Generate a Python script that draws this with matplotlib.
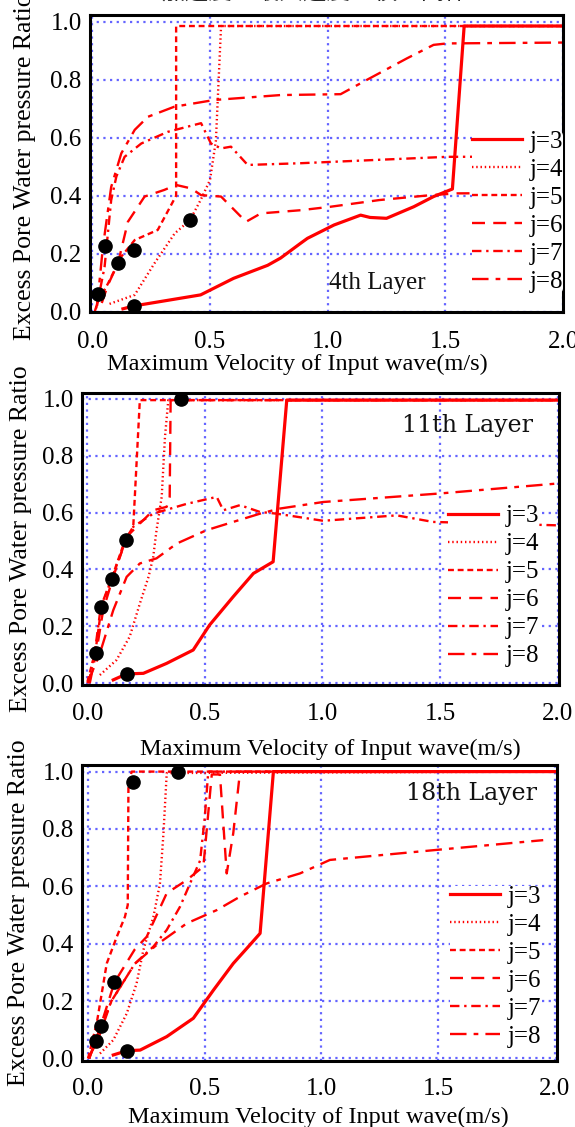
import matplotlib
matplotlib.use("Agg")
import matplotlib.pyplot as plt

# ---------------- data ----------------
title_text = "加速度と最大速度の積の関係"
xlabel_text = "Maximum Velocity of Input wave(m/s)"
ylabel_text = "Excess Pore Water pressure Ratio"
series_labels = ["j=3", "j=4", "j=5", "j=6", "j=7", "j=8"]
layer_names = ["4th Layer", "11th Layer", "18th Layer"]
x_ticks = [0.0, 0.5, 1.0, 1.5, 2.0]
y_ticks = [0.0, 0.2, 0.4, 0.6, 0.8, 1.0]

# Panel 1 (4th layer)
p1_j3_v = [0.13, 0.177, 0.46, 0.60, 0.745, 0.80, 0.885, 0.914, 1.027, 1.14, 1.18, 1.25, 1.366, 1.45, 1.53, 1.58, 2.0]
p1_j3_r = [0.01, 0.02, 0.058, 0.115, 0.16, 0.185, 0.236, 0.253, 0.299, 0.333, 0.325, 0.322, 0.362, 0.397, 0.423, 0.985, 0.985]
p1_j4_v = [0.073, 0.18, 0.264, 0.35, 0.415, 0.46, 0.50, 0.525, 0.547, 2.0]
p1_j4_r = [0.027, 0.058, 0.167, 0.27, 0.316, 0.385, 0.454, 0.59, 0.985, 0.985]
p1_j5_v = [0.01, 0.024, 0.067, 0.123, 0.18, 0.278, 0.356, 0.356, 2.0]
p1_j5_r = [0.0, 0.035, 0.098, 0.19, 0.247, 0.282, 0.40, 0.985, 0.985]
p1_j6_v = [0.04, 0.066, 0.109, 0.151, 0.222, 0.306, 0.356, 0.42, 0.462, 0.547, 0.653, 0.716, 0.886, 1.013, 1.22, 1.44, 1.55, 2.0]
p1_j6_r = [0.03, 0.092, 0.167, 0.31, 0.397, 0.42, 0.437, 0.425, 0.402, 0.397, 0.31, 0.339, 0.35, 0.362, 0.385, 0.402, 0.408, 0.41]
p1_j7_v = [0.015, 0.024, 0.052, 0.08, 0.102, 0.137, 0.208, 0.32, 0.433, 0.462, 0.504, 0.547, 0.589, 0.66, 0.886, 1.507, 2.0]
p1_j7_r = [0.01, 0.04, 0.155, 0.385, 0.466, 0.534, 0.58, 0.62, 0.644, 0.65, 0.58, 0.563, 0.569, 0.506, 0.512, 0.534, 0.535]
p1_j8_v = [0.02, 0.045, 0.08, 0.123, 0.18, 0.236, 0.349, 0.518, 0.80, 1.055, 1.168, 1.338, 1.45, 1.507, 2.0]
p1_j8_r = [0.02, 0.224, 0.43, 0.546, 0.627, 0.672, 0.707, 0.73, 0.747, 0.75, 0.80, 0.874, 0.92, 0.925, 0.928]
p1_dot_v = [0.024, 0.052, 0.109, 0.177, 0.177, 0.415]
p1_dot_r = [0.061, 0.227, 0.167, 0.213, 0.02, 0.316]

# Panel 2 (11th layer)
p2_j3_v = [0.11, 0.167, 0.238, 0.337, 0.45, 0.52, 0.62, 0.706, 0.79, 0.848, 2.0]
p2_j3_r = [0.012, 0.033, 0.035, 0.07, 0.117, 0.205, 0.304, 0.386, 0.427, 0.995, 0.995]
p2_j4_v = [0.053, 0.124, 0.18, 0.223, 0.26, 0.28, 0.294, 0.316, 0.33, 0.344, 2.0]
p2_j4_r = [0.029, 0.082, 0.164, 0.28, 0.374, 0.444, 0.538, 0.655, 0.866, 0.995, 0.995]
p2_j5_v = [0.0, 0.035, 0.06, 0.103, 0.16, 0.195, 0.223, 2.0]
p2_j5_r = [0.005, 0.117, 0.269, 0.368, 0.503, 0.55, 0.995, 0.995]
p2_j6_v = [0.01, 0.04, 0.067, 0.11, 0.167, 0.28, 0.337, 0.35, 0.354, 2.0]
p2_j6_r = [0.0, 0.12, 0.257, 0.374, 0.515, 0.608, 0.62, 0.655, 0.995, 0.995]
p2_j7_v = [0.005, 0.03, 0.057, 0.103, 0.164, 0.195, 0.28, 0.42, 0.55, 0.578, 0.649, 0.734, 0.805, 1.003, 1.316, 1.47, 2.0]
p2_j7_r = [0.0, 0.1, 0.269, 0.368, 0.503, 0.55, 0.596, 0.63, 0.655, 0.608, 0.626, 0.602, 0.596, 0.571, 0.59, 0.567, 0.555]
p2_j8_v = [0.0, 0.053, 0.11, 0.167, 0.223, 0.294, 0.38, 0.507, 0.62, 0.734, 0.819, 1.003, 1.5, 2.0]
p2_j8_r = [0.0, 0.105, 0.257, 0.374, 0.421, 0.439, 0.491, 0.538, 0.567, 0.596, 0.614, 0.637, 0.667, 0.702]
p2_dot_v = [0.035, 0.057, 0.103, 0.164, 0.396, 0.168]
p2_dot_r = [0.108, 0.269, 0.368, 0.503, 1.0, 0.033]

# Panel 3 (18th layer)
p3_j3_v = [0.108, 0.167, 0.223, 0.337, 0.451, 0.537, 0.622, 0.687, 0.737, 0.794, 2.0]
p3_j3_r = [0.012, 0.027, 0.029, 0.076, 0.14, 0.238, 0.331, 0.39, 0.436, 1.0, 1.0]
p3_j4_v = [0.051, 0.108, 0.166, 0.208, 0.237, 0.28, 0.308, 0.323, 0.337, 2.0]
p3_j4_r = [0.017, 0.064, 0.157, 0.262, 0.378, 0.494, 0.61, 0.785, 0.995, 1.0]
p3_j5_v = [0.0, 0.037, 0.08, 0.123, 0.158, 0.17, 0.173, 0.187, 2.0]
p3_j5_r = [0.0, 0.122, 0.331, 0.424, 0.494, 0.535, 0.96, 1.0, 1.0]
p3_j6_v = [0.005, 0.054, 0.113, 0.2, 0.251, 0.337, 0.423, 0.494, 0.53, 0.565, 0.594, 0.622, 0.651, 2.0]
p3_j6_r = [0.0, 0.113, 0.265, 0.38, 0.424, 0.576, 0.622, 0.669, 0.99, 0.99, 0.645, 0.785, 1.0, 1.0]
p3_j7_v = [0.005, 0.033, 0.1, 0.2, 0.28, 0.337, 0.394, 0.437, 0.48, 0.50, 0.515, 2.0]
p3_j7_r = [0.0, 0.062, 0.2, 0.33, 0.39, 0.448, 0.529, 0.61, 0.69, 0.84, 1.0, 1.0]
p3_j8_v = [0.0, 0.04, 0.1, 0.2, 0.3, 0.423, 0.551, 0.651, 0.765, 0.908, 1.036, 1.493, 1.95]
p3_j8_r = [0.0, 0.06, 0.2, 0.33, 0.4, 0.471, 0.517, 0.564, 0.61, 0.645, 0.692, 0.727, 0.761]
p3_dot_v = [0.033, 0.054, 0.113, 0.194, 0.387, 0.167]
p3_dot_r = [0.062, 0.113, 0.265, 0.963, 1.0, 0.027]

panels = [
    [(p1_j3_v, p1_j3_r), (p1_j4_v, p1_j4_r), (p1_j5_v, p1_j5_r), (p1_j6_v, p1_j6_r), (p1_j7_v, p1_j7_r), (p1_j8_v, p1_j8_r)],
    [(p2_j3_v, p2_j3_r), (p2_j4_v, p2_j4_r), (p2_j5_v, p2_j5_r), (p2_j6_v, p2_j6_r), (p2_j7_v, p2_j7_r), (p2_j8_v, p2_j8_r)],
    [(p3_j3_v, p3_j3_r), (p3_j4_v, p3_j4_r), (p3_j5_v, p3_j5_r), (p3_j6_v, p3_j6_r), (p3_j7_v, p3_j7_r), (p3_j8_v, p3_j8_r)],
]
dots = [(p1_dot_v, p1_dot_r), (p2_dot_v, p2_dot_r), (p3_dot_v, p3_dot_r)]

# ---------------- styling ----------------
SERIF = ["Liberation Serif", "DejaVu Serif"]
W, H = 575, 1127
fig = plt.figure(figsize=(W / 100, H / 100), dpi=100)

def px_rect(l, r, t, b):
    return [l / W, 1 - b / H, (r - l) / W, (b - t) / H]

rects = [px_rect(90, 563, 15, 312), px_rect(82, 559, 393, 685), px_rect(82, 557, 765, 1061)]
xlims = [(-0.01, 2.0), (-0.023, 2.006), (-0.026, 2.009)]
ylims = [(-0.001, 1.023), (-0.006, 1.02), (-0.009, 1.023)]

styles = [
    dict(linestyle="-", linewidth=2.3),
    dict(linestyle=(0, (0.6, 1.2)), linewidth=1.7),
    dict(linestyle=(0, (2.5, 1.6)), linewidth=1.7),
    dict(linestyle=(0, (5.5, 3.5)), linewidth=1.7),
    dict(linestyle=(0, (4, 2, 1, 2)), linewidth=1.7),
    dict(linestyle=(0, (7, 3, 2, 3)), linewidth=1.7),
]
red = "#ff0000"
grid_color = "#6464ff"

label_cfg = [
    dict(ylab=(-0.137, 0.49), xlab=(0.438, -0.175)),
    dict(ylab=(-0.128, 0.5), xlab=(0.52, -0.219)),
    dict(ylab=(-0.133, 0.5), xlab=(0.497, -0.189)),
]
legend_anchor = [(1.0, 0.337), (0.958, 0.339), (0.966, 0.318)]
layer_pos = [(0.607, 0.098), (0.946, 0.89), (0.958, 0.905)]
layer_font = [SERIF, ["DejaVu Serif"], ["DejaVu Serif"]]
layer_size = [18, 17, 17]
tick_pads = [14, 13, 12]

for i in range(3):
    ax = fig.add_axes(rects[i])
    ax.set_xlim(*xlims[i])
    ax.set_ylim(*ylims[i])
    for k, (vv, rr) in enumerate(panels[i]):
        ax.plot(vv, rr, color=red, label=series_labels[k], zorder=3, **styles[k])
    dv, dr = dots[i]
    ax.plot(dv, dr, linestyle="none", marker="o", markersize=9.5, color="black", zorder=4)
    ax.set_xticks(x_ticks)
    ax.set_yticks(y_ticks)
    ax.set_xticklabels([f"{t:.1f}" for t in x_ticks], fontfamily=SERIF, fontsize=18)
    ax.set_yticklabels([f"{t:.1f}" for t in y_ticks], fontfamily=SERIF, fontsize=18)
    ax.tick_params(axis="both", length=0)
    ax.tick_params(axis="x", pad=tick_pads[i])
    ax.tick_params(axis="y", pad=6)
    ax.grid(True, color=grid_color, linestyle=(0, (1, 2)), linewidth=1.6, zorder=1)
    for sp in ax.spines.values():
        sp.set_linewidth(2.2)
        sp.set_zorder(5)
    ax.set_xlabel(xlabel_text, fontfamily=SERIF, fontsize=17.5, va="center", ha="center")
    ax.set_ylabel(ylabel_text, fontfamily=SERIF, fontsize=18.5, va="center", ha="center")
    ax.xaxis.set_label_coords(*label_cfg[i]["xlab"])
    ax.yaxis.set_label_coords(*label_cfg[i]["ylab"])
    leg = ax.legend(loc="center right", bbox_to_anchor=legend_anchor[i], frameon=True,
                    prop={"family": SERIF, "size": 18}, handlelength=2.0, handletextpad=0.3,
                    labelspacing=0.22, borderpad=0.0, borderaxespad=0.0)
    leg.get_frame().set_edgecolor("none")
    leg.get_frame().set_facecolor("white")
    leg.get_frame().set_alpha(1.0)
    ax.text(layer_pos[i][0], layer_pos[i][1], layer_names[i], transform=ax.transAxes,
            ha="right" if i > 0 else "center", va="center",
            fontfamily=layer_font[i], fontsize=layer_size[i], color="#111111", zorder=6)

fig.text(0.548, 1.0067, title_text, ha="center", va="center", fontsize=17,
         fontfamily=["Noto Sans CJK JP", "DejaVu Sans"], color="#222222")

fig.savefig("out.png", dpi=100)
